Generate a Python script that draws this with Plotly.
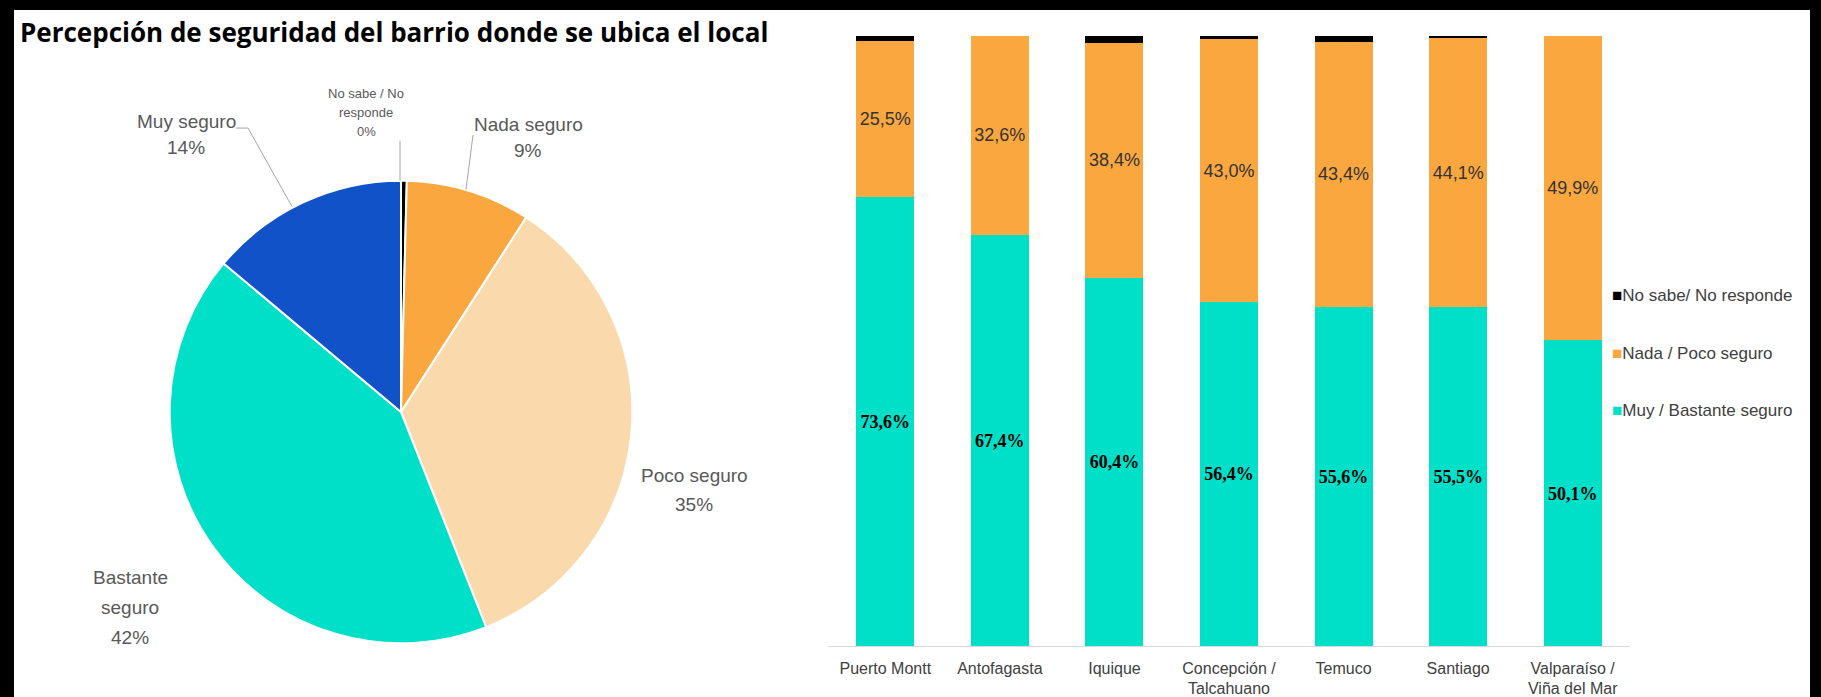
import plotly.graph_objects as go

W, H = 1821, 697

# ---------------- data ----------------
pie_labels = ["No sabe / No responde", "Nada seguro", "Poco seguro", "Bastante seguro", "Muy seguro"]
pie_label_lines = [["No sabe / No", "responde"], ["Nada seguro"], ["Poco seguro"],
                   ["Bastante", "seguro"], ["Muy seguro"]]
pie_values = [0.4, 8.7, 34.9, 42.1, 13.9]
pie_colors = ["#000000", "#FAA73F", "#FAD9AC", "#00DFC8", "#1152C9"]

cities = ["Puerto Montt", "Antofagasta", "Iquique", "Concepción /<br>Talcahuano",
          "Temuco", "Santiago", "Valparaíso /<br>Viña del Mar"]
seguro = [73.6, 67.4, 60.4, 56.4, 55.6, 55.5, 50.1]
inseguro = [25.5, 32.6, 38.4, 43.0, 43.4, 44.1, 49.9]
ns_nr = [0.9, 0.0, 1.2, 0.6, 1.0, 0.4, 0.0]
series_names = ["Muy / Bastante seguro", "Nada / Poco seguro", "No sabe/ No responde"]
series_colors = ["#00DFC8", "#FAA73F", "#000000"]

title = "Percepción de seguridad del barrio donde se ubica el local"


def px(x):
    return x / W


def py(y):
    return 1 - y / H


fig = go.Figure()

# ---------------- pie ----------------
pc_x, pc_y, pr = 401, 415, 233
fig.add_trace(go.Pie(
    labels=pie_labels, values=pie_values, sort=False, direction="clockwise", rotation=0,
    marker=dict(colors=pie_colors, line=dict(color="white", width=2)),
    textinfo="none", showlegend=False,
    domain=dict(x=[px(pc_x - pr), px(pc_x + pr)], y=[py(pc_y + pr), py(pc_y - pr)]),
))

# ---------------- stacked bars ----------------
bar_series = [seguro, inseguro, ns_nr]
text_fonts = [
    dict(family="Liberation Serif, Times New Roman, serif", size=19, color="#000000", weight="bold"),
    dict(family="Liberation Sans, Arial, sans-serif", size=18, color="#333333"),
    None,
]
for vals, name, color, tf in zip(bar_series, series_names, series_colors, text_fonts):
    fig.add_trace(go.Bar(
        x=cities, y=vals, name=name, marker=dict(color=color, line=dict(width=0)),
        texttemplate="%{y:.1f}%" if tf else None,
        textposition="inside" if tf else "none",
        insidetextanchor="middle", textangle=0,
        textfont=tf if tf else None,
        showlegend=False, xaxis="x", yaxis="y",
    ))

annotations = []
shapes = [dict(type="rect", xref="paper", yref="paper", x0=px(14), x1=px(1810), y0=-0.01, y1=py(10),
               fillcolor="#FFFFFF", line=dict(width=0), layer="below")]

# title
annotations.append(dict(
    text="<b>" + title + "</b>", x=px(18), y=py(32), xref="paper", yref="paper",
    xanchor="left", yanchor="middle", showarrow=False,
    font=dict(family="Open Sans, sans-serif", size=26, color="#000000"),
))

# pie labels: text centre x, first-line y, line step, font size, leader line points
pie_label_cfg = [
    dict(cx=366, y0=94, step=19, size=13, leader=[(400, 142), (400, 182)]),
    dict(cx=528, y0=125, step=27, size=19, leader=[(473, 136), (466, 191)]),
    dict(cx=694, y0=479, step=29, size=19, leader=None),
    dict(cx=130, y0=582, step=30, size=19, leader=None),
    dict(cx=186, y0=122, step=27, size=19, leader=[(236, 129), (248, 129), (292, 208)]),
]
for lines, val, cfg in zip(pie_label_lines, pie_values, pie_label_cfg):
    all_lines = lines + [f"{round(val)}%"]
    for i, ln in enumerate(all_lines):
        annotations.append(dict(
            text=ln, x=px(cfg["cx"]), y=py(cfg["y0"] + i * cfg["step"]),
            xref="paper", yref="paper", xanchor="center", yanchor="middle",
            showarrow=False,
            font=dict(family="Liberation Sans, Arial, sans-serif", size=cfg["size"], color="#595959"),
        ))
    if cfg["leader"]:
        pts = cfg["leader"]
        path = "M " + " L ".join(f"{px(x):.5f},{py(y):.5f}" for x, y in pts)
        shapes.append(dict(type="path", xref="paper", yref="paper", path=path,
                           line=dict(color="#A6A6A6", width=1)))

# legend (reverse order, like the source)
leg_y = [298, 356, 413]
for name, color, ly in zip(series_names[::-1], series_colors[::-1], leg_y):
    annotations.append(dict(
        text=f'<span style="color:{color}">■</span>{name}', x=px(1610), y=py(ly),
        xref="paper", yref="paper", xanchor="left", yanchor="middle", showarrow=False,
        font=dict(family="Liberation Sans, Arial, sans-serif", size=17, color="#404040"),
    ))

fig.update_layout(
    width=W, height=H, margin=dict(l=0, r=0, t=0, b=0),
    paper_bgcolor="#000000", plot_bgcolor="rgba(0,0,0,0)",
    barmode="stack", bargap=0.494, separators=",.",
    uniformtext=dict(minsize=18, mode="show"),
    xaxis=dict(domain=[px(828), px(1630)], showline=True, linecolor="#D9D9D9", linewidth=1,
               showgrid=False, zeroline=False, ticks="", ticklabelstandoff=7,
               tickfont=dict(family="Liberation Sans, Arial, sans-serif", size=16, color="#404040")),
    yaxis=dict(domain=[py(651), py(36)], range=[0, 100], visible=False, showgrid=False),
    shapes=shapes,
    annotations=annotations,
    font=dict(family="Liberation Sans, Arial, sans-serif"),
)

fig.write_html("out.html", config={"displayModeBar": False},
               post_script="document.body.style.margin='0';document.body.style.padding='0';"
                           "document.body.style.overflow='hidden';")
